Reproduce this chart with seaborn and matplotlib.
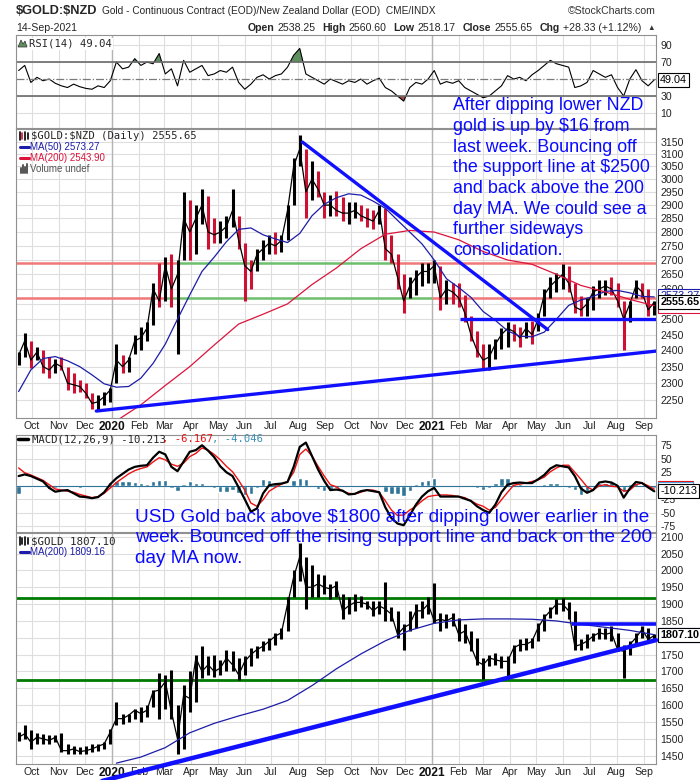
import numpy as np
import pandas as pd
import matplotlib
matplotlib.use("Agg")
import matplotlib.pyplot as plt
from matplotlib.lines import Line2D
from matplotlib.patches import Polygon
from matplotlib.ticker import FixedLocator, NullLocator, FuncFormatter
import seaborn as sns

sns.set_style("white")
plt.rcParams['font.family'] = ['Liberation Sans', 'DejaVu Sans']

# ---------------- data (weekly) ----------------
weeks = pd.date_range("2019-09-16", periods=105, freq="7D")

nzd_high = [2395, 2455, 2430, 2410, 2400, 2380, 2375, 2380, 2350, 2330,
            2310, 2300, 2270, 2265, 2275, 2285, 2420, 2385, 2380, 2450,
            2475, 2490, 2620, 2690, 2710, 2720, 2700, 2950, 2920, 2900,
            2960, 2935, 2850, 2840, 2860, 2960, 2860, 2760, 2700, 2740,
            2770, 2790, 2800, 2790, 2900, 3085, 3176, 3120, 3070, 3030,
            2950, 2940, 2955, 2930, 2910, 2910, 2900, 2890, 2880, 2900,
            2890, 2790, 2720, 2650, 2640, 2665, 2690, 2690, 2700, 2680,
            2630, 2620, 2620, 2580, 2510, 2460, 2420, 2420, 2437, 2470,
            2490, 2485, 2475, 2490, 2495, 2520, 2600, 2640, 2655, 2685,
            2680, 2620, 2575, 2570, 2610, 2630, 2630, 2640, 2620, 2560,
            2560, 2630, 2620, 2600, 2560]
nzd_low = [2355, 2380, 2345, 2370, 2330, 2315, 2330, 2340, 2280, 2270,
           2275, 2255, 2225, 2220, 2235, 2245, 2300, 2330, 2335, 2390,
           2400, 2430, 2480, 2540, 2560, 2540, 2390, 2700, 2700, 2720,
           2830, 2740, 2760, 2760, 2780, 2820, 2740, 2560, 2600, 2660,
           2700, 2720, 2720, 2730, 2770, 2900, 3050, 2850, 2920, 2930,
           2850, 2860, 2860, 2840, 2830, 2850, 2840, 2820, 2810, 2830,
           2700, 2690, 2600, 2520, 2570, 2580, 2610, 2620, 2620, 2530,
           2550, 2550, 2540, 2490, 2430, 2380, 2345, 2340, 2375, 2405,
           2410, 2430, 2410, 2440, 2420, 2460, 2510, 2570, 2590, 2600,
           2590, 2520, 2510, 2510, 2530, 2570, 2580, 2580, 2540, 2400,
           2490, 2570, 2570, 2510, 2515]
nzd_close = [2385, 2430, 2370, 2395, 2350, 2340, 2360, 2350, 2300, 2295,
             2290, 2270, 2240, 2245, 2260, 2280, 2370, 2350, 2370, 2430,
             2440, 2470, 2600, 2560, 2680, 2600, 2650, 2850, 2800, 2850,
             2900, 2800, 2790, 2800, 2820, 2880, 2770, 2680, 2660, 2720,
             2740, 2760, 2750, 2770, 2880, 3050, 3120, 2950, 3000, 2960,
             2900, 2900, 2880, 2870, 2870, 2880, 2860, 2850, 2840, 2880,
             2740, 2720, 2640, 2560, 2610, 2640, 2660, 2660, 2680, 2570,
             2600, 2590, 2570, 2520, 2450, 2400, 2370, 2380, 2420, 2450,
             2470, 2460, 2440, 2470, 2450, 2500, 2580, 2610, 2630, 2650,
             2620, 2540, 2530, 2550, 2590, 2600, 2610, 2600, 2560, 2500,
             2550, 2610, 2590, 2530, 2555.65]
# MA(50) every 2 weeks, MA(200) every 4 weeks
nzd_ma50 = [2275, 2340, 2375, 2381, 2368, 2350, 2325, 2298, 2288, 2290,
            2315, 2360, 2420, 2500, 2580, 2660, 2710, 2765, 2810, 2815,
            2790, 2775, 2762, 2795, 2860, 2903, 2928, 2943, 2938, 2915,
            2888, 2843, 2800, 2757, 2700, 2635, 2605, 2572, 2525, 2496,
            2462, 2445, 2443, 2458, 2500, 2545, 2563, 2575, 2592, 2595,
            2587, 2575, 2573.27]
nzd_ma200 = [np.nan, np.nan, np.nan, np.nan, 2190, 2236, 2293, 2350, 2417,
             2484, 2516, 2550, 2615, 2672, 2740, 2792, 2806, 2800, 2772,
             2730, 2700, 2685, 2650, 2612, 2590, 2565, 2543.90]

rsi14 = [60, 66, 46, 52, 48, 50, 45, 42, 40, 44,
         41, 39, 38, 42, 40, 48, 70, 62, 64, 74,
         66, 70, 68, 80, 56, 62, 42, 72, 58, 62,
         66, 54, 56, 60, 58, 64, 46, 38, 44, 52,
         55, 50, 54, 56, 64, 78, 86, 56, 52, 48,
         44, 50, 47, 44, 48, 46, 50, 44, 48, 51,
         40, 36, 30, 24, 40, 46, 44, 50, 60, 44,
         47, 45, 48, 40, 36, 32, 28, 30, 36, 42,
         54, 50, 52, 48, 55, 60, 66, 72, 68, 66,
         64, 40, 42, 46, 60, 56, 52, 55, 40, 30,
         50, 61, 48, 42, 49.04]

macd_line = [18, 21, 18, 13, 8, -4, -11, -9, -8, -14,
             -20, -21, -23, -21, -12, 3, 14, 22, 30, 35,
             37, 38, 52, 63, 58, 35, 27, 45, 63, 66,
             75, 65, 53, 36, 25, 18, -3, -25, -48, -42,
             -14, 1, 3, 4, 7, 35, 72, 80, 55, 30,
             9, -8, -7, -9, -16, -15, -10, -8, -10, -12,
             -40, -60, -70, -73, -55, -35, -20, -10, -4, -20,
             -20, -20, -20, -24, -28, -38, -45, -50, -35, -12,
             2, 5, 6, 5, 5, 12, 20, 32, 38, 36,
             34, 18, -5, -13, -8, 6, 8, 6, 0, -22,
             -5, 7, 5, -3, -10.213]
macd_signal = [33, 24, 20, 15, 10, 2, -6, -8, -10, -12,
               -16, -19, -22, -20, -14, -4, 6, 14, 22, 28,
               32, 35, 44, 52, 48, 40, 36, 42, 54, 60,
               70, 66, 58, 48, 36, 26, 10, -8, -32, -38,
               -26, -10, -3, 3, 8, 25, 58, 68, 55, 36,
               18, 2, -2, -10, -14, -15, -12, -8, -8, -12,
               -28, -45, -55, -54, -45, -38, -28, -20, -18, -17,
               -17, -18, -20, -22, -28, -34, -38, -45, -40, -26,
               -12, 1, 3, 5, 8, 11, 16, 26, 33, 38,
               38, 25, 12, -2, -8, 0, 2, -1, -2, -10,
               -8, 2, 5, 0, -6.167]

usd_high = [1520, 1541, 1525, 1518, 1515, 1512, 1512, 1517, 1485, 1480,
            1475, 1480, 1485, 1485, 1490, 1530, 1610, 1575, 1575, 1590,
            1595, 1600, 1645, 1695, 1690, 1705, 1600, 1660, 1700, 1750,
            1775, 1745, 1750, 1735, 1765, 1760, 1740, 1745, 1770, 1775,
            1790, 1800, 1815, 1830, 1920, 2000, 2080, 2040, 2015, 1990,
            1985, 1960, 1970, 1930, 1920, 1930, 1925, 1910, 1910, 1910,
            1965, 1890, 1880, 1840, 1880, 1900, 1910, 1920, 1962, 1875,
            1870, 1875, 1860, 1840, 1820, 1800, 1740, 1750, 1755, 1745,
            1745, 1780, 1795, 1800, 1800, 1845, 1870, 1890, 1915, 1918,
            1905, 1880, 1795, 1810, 1815, 1830, 1830, 1835, 1815, 1780,
            1790, 1815, 1835, 1830, 1810]
usd_low = [1495, 1500, 1470, 1485, 1485, 1485, 1490, 1460, 1455, 1455,
           1455, 1455, 1460, 1465, 1470, 1485, 1540, 1545, 1550, 1560,
           1550, 1565, 1595, 1560, 1590, 1560, 1455, 1470, 1580, 1610,
           1680, 1690, 1685, 1690, 1700, 1700, 1675, 1690, 1715, 1740,
           1760, 1765, 1780, 1795, 1820, 1920, 1970, 1885, 1920, 1920,
           1930, 1915, 1920, 1855, 1870, 1880, 1890, 1885, 1865, 1870,
           1850, 1850, 1800, 1765, 1820, 1830, 1860, 1870, 1845, 1820,
           1830, 1835, 1790, 1785, 1760, 1720, 1677, 1715, 1720, 1710,
           1680, 1725, 1760, 1765, 1770, 1790, 1820, 1860, 1870, 1880,
           1855, 1765, 1765, 1770, 1790, 1795, 1795, 1790, 1760, 1680,
           1750, 1780, 1800, 1790, 1790]
usd_close = [1505, 1515, 1490, 1505, 1500, 1495, 1505, 1465, 1465, 1470,
             1462, 1465, 1470, 1478, 1485, 1520, 1560, 1560, 1570, 1585,
             1575, 1585, 1640, 1645, 1670, 1580, 1500, 1630, 1620, 1740,
             1700, 1720, 1700, 1710, 1740, 1720, 1690, 1730, 1750, 1765,
             1775, 1790, 1805, 1815, 1900, 1980, 2040, 1950, 1950, 1960,
             1950, 1945, 1955, 1880, 1895, 1905, 1905, 1900, 1880, 1895,
             1885, 1870, 1810, 1830, 1840, 1880, 1880, 1900, 1850, 1855,
             1850, 1860, 1810, 1820, 1775, 1730, 1720, 1740, 1735, 1730,
             1730, 1770, 1780, 1780, 1790, 1830, 1860, 1880, 1900, 1900,
             1880, 1775, 1780, 1790, 1805, 1815, 1810, 1815, 1765, 1760,
             1780, 1800, 1825, 1795, 1807.10]
usd_ma200 = [np.nan, np.nan, np.nan, np.nan, 1428, 1446, 1474, 1518, 1546,
             1568, 1588, 1614, 1658, 1708, 1752, 1791, 1822, 1843, 1853,
             1856, 1856, 1855, 1850, 1840, 1831, 1822, 1809.16]

# annotation levels / trendlines
nzd_hlines = [2690, 2571]
nzd_hline_breaks = [["2020-03-18", "2020-11-17"], ["2020-03-01", "2021-01-01"]]
nzd_down_line = (["2020-08-06", "2021-05-14"], [3148, 2466])
nzd_up_line = (["2019-12-14", "2021-09-15"], [2218, 2398])
nzd_support = ("2021-02-02", 2500)
usd_green_levels = [1919, 1675]
usd_up_line = (["2019-12-10", "2021-09-15"], [1368, 1793])
usd_resist = ("2021-06-11", 1841)

note_nzd = ["After dipping lower NZD", "gold is up by \\$16 from", "last week. Bouncing off",
            "the support line at \\$2500", "and back above the 200", "day MA. We could see a",
            "further sideways", "consolidation."]
note_usd = ["USD Gold back above \\$1800 after dipping lower earlier in the",
            "week. Bounced off the rising support line and back on the 200",
            "day MA now."]

# ---------------- figure ----------------
W, H = 700, 780
fig = plt.figure(figsize=(7, 7.8), dpi=100)

def pax(x0, y0, x1, y1):
    return fig.add_axes([x0 / W, 1 - y1 / H, (x1 - x0) / W, (y1 - y0) / H])

def ftext(x, y, s, **kw):
    kw.setdefault('va', 'center')
    return fig.text(x / W, 1 - y / H, s, **kw)

def fline(x0, x1, y, **kw):
    fig.add_artist(Line2D([x0 / W, x1 / W], [1 - y / H, 1 - y / H],
                          transform=fig.transFigure, **kw))

XMIN, XMAX = pd.Timestamp("2019-09-13"), pd.Timestamp("2021-09-15")
month_starts = pd.date_range("2019-10-01", "2021-09-01", freq="MS")
tick_labels = [str(d.year) if d.month == 1 else d.strftime("%b") for d in month_starts]
years = [pd.Timestamp("2020-01-01"), pd.Timestamp("2021-01-01")]

def style(ax, show_x):
    ax.set_xlim(XMIN, XMAX)
    ax.set_xlabel('')
    ax.set_ylabel('')
    ax.set_xticks(month_starts)
    if show_x:
        ax.set_xticklabels(tick_labels, fontsize=7.6, color='#222222')
        for lab, d in zip(ax.get_xticklabels(), month_starts):
            if d.month == 1:
                lab.set_fontweight('bold')
                lab.set_fontsize(8.6)
                lab.set_color('#111111')
    else:
        ax.set_xticklabels([])
    ax.tick_params(axis='x', length=0, pad=2)
    ax.yaxis.tick_right()
    ax.tick_params(axis='y', length=0, pad=3, labelsize=7.6, labelcolor='#222222')
    ax.grid(True, color='#dedede', lw=0.8)
    ax.set_axisbelow(True)
    for d in years:
        ax.axvline(d, color='#b4b4b4', lw=1.0, zorder=0.6)
    for sp in ax.spines.values():
        sp.set_color('#909090')
        sp.set_linewidth(0.8)

def value_box(ax, y, txt, color='black', bold=False, ec=None, dx=3):
    ax.annotate(txt, xy=(1.0, y), xycoords=ax.get_yaxis_transform(),
                xytext=(dx, 0), textcoords='offset points', va='center', ha='left',
                fontsize=7.8, color=color, fontweight='bold' if bold else 'normal',
                bbox=dict(boxstyle='square,pad=0.18', fc='white', ec=ec or color, lw=0.8),
                annotation_clip=False, zorder=10)

up_red = '#cc1133'

# ---- RSI panel ----
ax_rsi = pax(16, 35, 656, 128)
rsi_arr = np.array(rsi14, dtype=float)
sns.lineplot(x=weeks, y=rsi_arr, ax=ax_rsi, color='black', lw=0.8)
ax_rsi.fill_between(weeks, rsi_arr, 70, where=rsi_arr >= 70, interpolate=True,
                    color='#5f8f5f', lw=0)
ax_rsi.fill_between(weeks, rsi_arr, 30, where=rsi_arr <= 30, interpolate=True,
                    color='#a54848', lw=0)
ax_rsi.axhline(70, color='#6a6a6a', lw=1.2)
ax_rsi.axhline(30, color='#6a6a6a', lw=1.2)
ax_rsi.axhline(50, color='#7a7a7a', lw=0.9, ls='-.')
ax_rsi.set_ylim(-7.6, 101.8)
style(ax_rsi, False)
ax_rsi.set_yticks([10, 30, 70, 90])
value_box(ax_rsi, rsi14[-1], "49.04")

# ---- NZD price panel ----
ax_px = pax(16, 129, 656, 418)
colors = ['black'] + ['black' if c >= p else up_red for p, c in zip(nzd_close[:-1], nzd_close[1:])]
ax_px.vlines(weeks, nzd_low, nzd_high, colors=colors, lw=2.2, zorder=3)
sns.lineplot(x=weeks, y=nzd_close, ax=ax_px, color='black', lw=0.9, zorder=3)
sns.lineplot(x=weeks[::2], y=nzd_ma50, ax=ax_px, color='#1c1ca8', lw=0.9, zorder=4)
sns.lineplot(x=weeks[::4], y=nzd_ma200, ax=ax_px, color='#dc143c', lw=0.9, zorder=4)
for lvl, (b1, b2) in zip(nzd_hlines, nzd_hline_breaks):
    b1, b2 = pd.Timestamp(b1), pd.Timestamp(b2)
    ax_px.hlines(lvl, XMIN, b1, color='#f07878', lw=1.8, zorder=2)
    ax_px.hlines(lvl, b1, b2, color='#6cbf6c', lw=1.8, zorder=2)
    ax_px.hlines(lvl, b2, XMAX, color='#f07878', lw=1.8, zorder=2)
ax_px.plot(pd.to_datetime(nzd_down_line[0]), nzd_down_line[1], color='#1010ff', lw=2.4, zorder=5)
ax_px.plot(pd.to_datetime(nzd_up_line[0]), nzd_up_line[1], color='#1010ff', lw=2.4, zorder=5)
ax_px.hlines(nzd_support[1], pd.Timestamp(nzd_support[0]), XMAX, color='#1010ff', lw=2.4, zorder=5)
ax_px.set_yscale('log')
ax_px.set_ylim(2198, 3202)
style(ax_px, True)
ax_px.yaxis.set_major_locator(FixedLocator(list(range(2250, 3151, 50))))
ax_px.yaxis.set_major_formatter(FuncFormatter(lambda v, p: f"{v:.0f}"))
ax_px.yaxis.set_minor_locator(NullLocator())
value_box(ax_px, nzd_ma50[-1] + 3, "2573.27", color='#1c1ca8')
value_box(ax_px, nzd_ma200[-1], "2543.90", color='#dc143c')
value_box(ax_px, nzd_close[-1], "2555.65", bold=True)

# ---- MACD panel ----
ax_macd = pax(16, 435, 656, 532)
macd_arr = np.array(macd_line, dtype=float)
sig_arr = np.array(macd_signal, dtype=float)
hist = macd_arr - sig_arr
ax_macd.bar(weeks, hist, width=5, color='#2f7598', zorder=2)
ax_macd.axhline(0, color='#2f7598', lw=0.8, zorder=2)
sns.lineplot(x=weeks, y=sig_arr, ax=ax_macd, color='#ee1111', lw=1.0, zorder=3)
sns.lineplot(x=weeks, y=macd_arr, ax=ax_macd, color='black', lw=1.6, zorder=4)
ax_macd.set_ylim(-85.6, 94)
style(ax_macd, False)
ax_macd.set_yticks([-75, -50, -25, 0, 25, 50, 75])
ax_macd.set_yticklabels(['-75', '-50', '-25', '', '25', '50', '75'])
value_box(ax_macd, macd_arr[-1] + 6, "-6.167", color='#ee1111')
value_box(ax_macd, macd_arr[-1] + 5, "-4.046", color='#2f7598', ec='#4a9fe0')
value_box(ax_macd, macd_arr[-1], "-10.213")

# ---- USD gold panel ----
ax_usd = pax(16, 533, 656, 764)
ax_usd.vlines(weeks, usd_low, usd_high, colors='black', lw=2.2, zorder=3)
sns.lineplot(x=weeks, y=usd_close, ax=ax_usd, color='black', lw=0.9, zorder=3)
sns.lineplot(x=weeks[::4], y=usd_ma200, ax=ax_usd, color='#1c1ca8', lw=0.9, zorder=4)
for lvl in usd_green_levels:
    ax_usd.axhline(lvl, color='#007a00', lw=2.0, zorder=2)
ax_usd.plot(pd.to_datetime(usd_up_line[0]), usd_up_line[1], color='#1010ff', lw=3.2,
            zorder=5, clip_on=False)
ax_usd.hlines(usd_resist[1], pd.Timestamp(usd_resist[0]), XMAX, color='#1010ff', lw=2.6, zorder=5)
ax_usd.set_ylim(1425.4, 2111)
style(ax_usd, True)
ax_usd.set_yticks(list(range(1450, 2101, 50)))
value_box(ax_usd, usd_ma200[-1], "1809.16", color='#1c1ca8')
value_box(ax_usd, usd_close[-1], "1807.10", bold=True)

# ---------------- header ----------------
renderer = fig.canvas.get_renderer()
t_sym = ftext(16, 11, "\\$GOLD:\\$NZD", fontsize=9.2, fontweight='bold')
w_sym = t_sym.get_window_extent(renderer).width
ftext(16 + w_sym + 4, 11, "Gold - Continuous Contract (EOD)/New Zealand Dollar (EOD)  CME/INDX",
      fontsize=7.3)
ftext(656, 11, "\u00a9StockCharts.com", ha='right', fontsize=7.6, color='#333333')
ftext(16, 28, "14-Sep-2021", fontsize=7.6)

pieces = [("Open", True), ("2538.25", False), ("High", True), ("2560.60", False),
          ("Low", True), ("2518.17", False), ("Close", True), ("2555.65", False),
          ("Chg", True), ("+28.33 (+1.12%)", False)]
objs = []
total = 0
for s, b in pieces:
    t = ftext(0, 28, s, fontsize=7.6, fontweight='bold' if b else 'normal')
    w = t.get_window_extent(renderer).width
    gap = 3 if b else 7
    objs.append((t, w, gap))
    total += w + gap
x = 648 - total
for t, w, gap in objs:
    t.set_x(x / W)
    x += w + gap
ftext(651, 28, "\u25b2", fontsize=5.5, color='#333333', ha='center')

# ---------------- legends ----------------
mono = ['DejaVu Sans Mono']
# RSI
fig.add_artist(Polygon([[18 / W, 1 - 47 / H], [21 / W, 1 - 40 / H], [23 / W, 1 - 44 / H],
                        [25 / W, 1 - 41 / H], [27 / W, 1 - 47 / H]],
                       closed=True, transform=fig.transFigure, fc='#5f8f5f', ec='#333333', lw=0.5))
ftext(29, 44, "RSI(14) 49.04", fontsize=7.6, family=mono,
      bbox=dict(fc='white', ec='none', pad=0.5))
# price
for k, (xx, c) in enumerate([(20, 'black'), (22.5, up_red), (25, 'black'), (27.5, 'black')]):
    fig.add_artist(Line2D([xx / W, xx / W], [1 - (132 + k % 2) / H, 1 - (140 - k % 2) / H],
                          transform=fig.transFigure, color=c, lw=1.2))
ftext(31, 136, "\\$GOLD:\\$NZD (Daily) 2555.65", fontsize=7.6, family=mono)
fline(20, 29, 147, color='#1c1ca8', lw=2.2)
ftext(30, 147, "MA(50) 2573.27", fontsize=7.0, color='#1c1ca8')
fline(20, 29, 158, color='#dc143c', lw=2.2)
ftext(30, 158, "MA(200) 2543.90", fontsize=7.0, color='#dc143c')
for k, hh in enumerate([5, 8, 6, 9]):
    fig.add_artist(Line2D([(21 + 2 * k) / W] * 2, [1 - 173 / H, 1 - (173 - hh) / H],
                          transform=fig.transFigure, color='#555555', lw=1.4))
ftext(30, 169, "Volume undef", fontsize=7.0, color='#555555')
# MACD
fline(18, 28, 439, color='black', lw=2.5)
ftext(32, 439, "MACD(12,26,9) -10.213", fontsize=7.6, family=mono)
ftext(32 + 21 * 6.2, 439, ", -6.167", fontsize=7.6, family=mono, color='#ee1111')
ftext(32 + 29 * 6.2, 439, ", -4.046", fontsize=7.6, family=mono, color='#3a8fb5')
# USD
for k, (xx, c) in enumerate([(20, 'black'), (22.5, 'black'), (25, 'black'), (27.5, 'black')]):
    fig.add_artist(Line2D([xx / W, xx / W], [1 - (537 + k % 2) / H, 1 - (545 - k % 2) / H],
                          transform=fig.transFigure, color=c, lw=1.2))
ftext(31, 541, "\\$GOLD 1807.10", fontsize=7.8, family=mono)
fline(20, 29, 552, color='#1c1ca8', lw=2.2)
ftext(30, 552, "MA(200) 1809.16", fontsize=7.0, color='#1c1ca8')

# ---------------- blue commentary ----------------
for k, line in enumerate(note_nzd):
    ftext(453, 106 + 20.6 * k, line, fontsize=12.9, color='#0a0aff')
for k, line in enumerate(note_usd):
    ftext(135, 517 + 20.8 * k, line, fontsize=13.7, color='#0a0aff')

fig.savefig("out.png", dpi=100)
